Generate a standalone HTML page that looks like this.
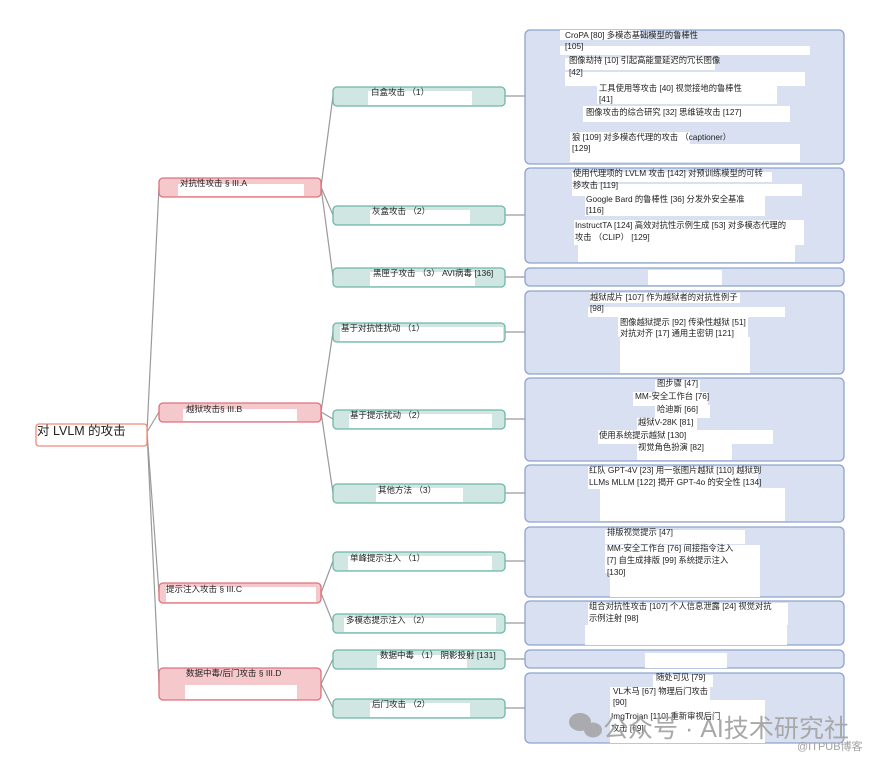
<!DOCTYPE html>
<html><head><meta charset="utf-8"><style>
html,body{margin:0;padding:0;background:#fff;width:889px;height:761px;overflow:hidden}
svg text{font-family:"Liberation Sans","Noto Sans CJK SC",sans-serif;fill:#222}
</style></head><body>
<svg width="889" height="761" viewBox="0 0 889 761" xmlns="http://www.w3.org/2000/svg">
<g stroke="#9a9a9a" stroke-width="1.2" fill="none">
<path d="M147 432 L159 187"/><path d="M147 432 L159 412"/><path d="M147 432 L159 593"/><path d="M147 432 L159 684"/>
<path d="M321 187 L333 96"/><path d="M321 187 L333 215"/><path d="M321 187 L333 277"/>
<path d="M321 412 L333 332"/><path d="M321 412 L333 419"/><path d="M321 412 L333 493"/>
<path d="M321 593 L333 561"/><path d="M321 593 L333 623"/>
<path d="M321 684 L333 659"/><path d="M321 684 L333 708"/>
<path d="M505 96 L525 96"/><path d="M505 215 L525 215"/><path d="M505 277 L525 277"/><path d="M505 332 L525 332"/><path d="M505 419 L525 419"/><path d="M505 493 L525 493"/><path d="M505 561 L525 561"/><path d="M505 623 L525 623"/><path d="M505 659 L525 659"/><path d="M505 708 L525 708"/>
</g>
<rect x="36" y="424" width="111" height="22" rx="3" fill="#fff" stroke="#f08a7a" stroke-width="1.3"/>
<text x="37" y="435" font-size="12.5">对 LVLM 的攻击</text>
<g fill="#f5c8cc" stroke="#e0707c" stroke-width="1.3">
<rect x="159" y="178" width="162" height="19" rx="4"/>
<rect x="159" y="403" width="162" height="19" rx="4"/>
<rect x="159" y="583" width="162" height="20" rx="4"/>
<rect x="159" y="668" width="162" height="32" rx="4"/>
</g>
<g fill="#fff">
<rect x="178" y="184" width="126" height="12"/>
<rect x="183" y="409" width="114" height="12"/>
<rect x="166" y="587" width="150" height="15"/>
<rect x="185" y="685" width="112" height="14"/>
</g>
<g font-size="8.5">
<text x="180" y="186">对抗性攻击 § III.A</text>
<text x="186" y="412">越狱攻击§ III.B</text>
<text x="166" y="592">提示注入攻击 § III.C</text>
<text x="186" y="676">数据中毒/后门攻击 § III.D</text>
</g>
<g fill="#cfe6e2" stroke="#6db7a7" stroke-width="1.3">
<rect x="333" y="87" width="172" height="19" rx="4"/>
<rect x="333" y="206" width="172" height="19" rx="4"/>
<rect x="333" y="268" width="172" height="19" rx="4"/>
<rect x="333" y="323" width="172" height="19" rx="4"/>
<rect x="333" y="410" width="172" height="19" rx="4"/>
<rect x="333" y="484" width="172" height="19" rx="4"/>
<rect x="333" y="552" width="172" height="19" rx="4"/>
<rect x="333" y="614" width="172" height="19" rx="4"/>
<rect x="333" y="650" width="172" height="19" rx="4"/>
<rect x="333" y="699" width="172" height="19" rx="4"/>
</g>
<g fill="#fff">
<rect x="368" y="91" width="104" height="14"/>
<rect x="370" y="210" width="100" height="14"/>
<rect x="370" y="272" width="105" height="14"/>
<rect x="340" y="327" width="163" height="14"/>
<rect x="349" y="414" width="143" height="14"/>
<rect x="376" y="488" width="87" height="14"/>
<rect x="348" y="556" width="144" height="14"/>
<rect x="344" y="618" width="152" height="14"/>
<rect x="377" y="655" width="90" height="13"/>
<rect x="370" y="703" width="100" height="14"/>
</g>
<g font-size="8.5">
<text x="371" y="95">白盒攻击 （1）</text>
<text x="372" y="214">灰盒攻击 （2）</text>
<text x="373" y="276">黑匣子攻击 （3） AVI病毒 [136]</text>
<text x="341" y="331">基于对抗性扰动 （1）</text>
<text x="350" y="418">基于提示扰动 （2）</text>
<text x="378" y="493">其他方法 （3）</text>
<text x="350" y="561">单峰提示注入 （1）</text>
<text x="346" y="623">多模态提示注入 （2）</text>
<text x="380" y="658">数据中毒 （1） 阴影投射 [131]</text>
<text x="372" y="707">后门攻击 （2）</text>
</g>
<g fill="#d9e0f1" stroke="#8ea3cd" stroke-width="1.3">
<rect x="525" y="30" width="319" height="134" rx="5"/>
<rect x="525" y="168" width="319" height="95" rx="5"/>
<rect x="525" y="268" width="319" height="18" rx="5"/>
<rect x="525" y="291" width="319" height="83" rx="5"/>
<rect x="525" y="378" width="319" height="83" rx="5"/>
<rect x="525" y="465" width="319" height="57" rx="5"/>
<rect x="525" y="527" width="319" height="70" rx="5"/>
<rect x="525" y="601" width="319" height="44" rx="5"/>
<rect x="525" y="650" width="319" height="18" rx="5"/>
<rect x="525" y="673" width="319" height="70" rx="5"/>
</g>
<g fill="#fff">
<rect x="560" y="30" width="80" height="10"/><rect x="560" y="46" width="250" height="9"/>
<rect x="565" y="58" width="150" height="12"/><rect x="565" y="72" width="240" height="14"/>
<rect x="597" y="84" width="180" height="20"/><rect x="583" y="106" width="207" height="16"/>
<rect x="570" y="132" width="120" height="12"/><rect x="570" y="144" width="230" height="18"/>
<rect x="572" y="172" width="200" height="10"/><rect x="572" y="184" width="230" height="12"/>
<rect x="585" y="196" width="180" height="20"/><rect x="574" y="220" width="230" height="25"/>
<rect x="578" y="245" width="217" height="17"/>
<rect x="648" y="270" width="74" height="15"/>
<rect x="590" y="293" width="150" height="10"/><rect x="588" y="307" width="197" height="10"/>
<rect x="618" y="317" width="130" height="20"/><rect x="620" y="337" width="130" height="36"/>
<rect x="655" y="380" width="45" height="12"/><rect x="633" y="392" width="75" height="14"/>
<rect x="655" y="405" width="55" height="13"/><rect x="637" y="418" width="60" height="13"/>
<rect x="598" y="430" width="175" height="14"/><rect x="637" y="443" width="95" height="17"/>
<rect x="600" y="488" width="185" height="33"/><rect x="588" y="467" width="170" height="22"/>
<rect x="605" y="530" width="140" height="14"/><rect x="605" y="545" width="155" height="28"/>
<rect x="610" y="573" width="150" height="24"/>
<rect x="588" y="603" width="200" height="22"/><rect x="585" y="625" width="202" height="20"/>
<rect x="645" y="653" width="82" height="15"/>
<rect x="653" y="675" width="60" height="12"/><rect x="610" y="687" width="100" height="13"/>
<rect x="610" y="700" width="155" height="43"/>
</g>
<g font-size="8.3">
<text x="565" y="38">CroPA [80] 多模态基础模型的鲁棒性</text>
<text x="565" y="49">[105]</text>
<text x="569" y="63">图像劫持 [10] 引起高能量延迟的冗长图像</text>
<text x="569" y="75">[42]</text>
<text x="599" y="91">工具使用等攻击 [40] 视觉接地的鲁棒性</text>
<text x="599" y="102">[41]</text>
<text x="586" y="115">图像攻击的综合研究 [32] 思维链攻击 [127]</text>
<text x="572" y="140">狼 [109] 对多模态代理的攻击 （captioner）</text>
<text x="572" y="151">[129]</text>
<text x="573" y="176">使用代理项的 LVLM 攻击 [142] 对预训练模型的可转</text>
<text x="573" y="188">移攻击 [119]</text>
<text x="586" y="202">Google Bard 的鲁棒性 [36] 分发外安全基准</text>
<text x="586" y="213">[116]</text>
<text x="575" y="228">InstructTA [124] 高效对抗性示例生成 [53] 对多模态代理的</text>
<text x="575" y="240">攻击 （CLIP） [129]</text>
<text x="590" y="300">越狱成片 [107] 作为越狱者的对抗性例子</text>
<text x="590" y="311">[98]</text>
<text x="620" y="325">图像越狱提示 [92] 传染性越狱 [51]</text>
<text x="620" y="336">对抗对齐 [17] 通用主密钥 [121]</text>
<text x="657" y="386">图步骤 [47]</text>
<text x="635" y="399">MM-安全工作台 [76]</text>
<text x="657" y="412">哈迪斯 [66]</text>
<text x="638" y="425">越狱V-28K [81]</text>
<text x="599" y="438">使用系统提示越狱 [130]</text>
<text x="638" y="450">视觉角色扮演 [82]</text>
<text x="589" y="473">红队 GPT-4V [23] 用一张图片越狱 [110] 越狱到</text>
<text x="589" y="485">LLMs MLLM [122] 揭开 GPT-4o 的安全性 [134]</text>
<text x="607" y="535">排版视觉提示 [47]</text>
<text x="607" y="551">MM-安全工作台 [76] 间接指令注入</text>
<text x="607" y="563">[7] 自生成排版 [99] 系统提示注入</text>
<text x="607" y="575">[130]</text>
<text x="589" y="609">组合对抗性攻击 [107] 个人信息泄露 [24] 视觉对抗</text>
<text x="589" y="621">示例注射 [98]</text>
<text x="656" y="680">随处可见 [79]</text>
<text x="613" y="694">VL木马 [67] 物理后门攻击</text>
<text x="613" y="705">[90]</text>
<text x="611" y="719">ImgTrojan [110] 重新审视后门</text>
<text x="611" y="731">攻击 [69]</text>
</g>
<g fill="#9a9a9a" opacity="0.75">
<ellipse cx="580" cy="722" rx="11" ry="9"/>
<ellipse cx="593" cy="730" rx="9" ry="7.5"/>
</g>
<text x="603" y="737" font-size="25" style="fill:#a8a8a8">公众号 · AI技术研究社</text>
<text x="797" y="750" font-size="11" style="fill:#a0a0a0">@ITPUB博客</text>
</svg>
</body></html>
